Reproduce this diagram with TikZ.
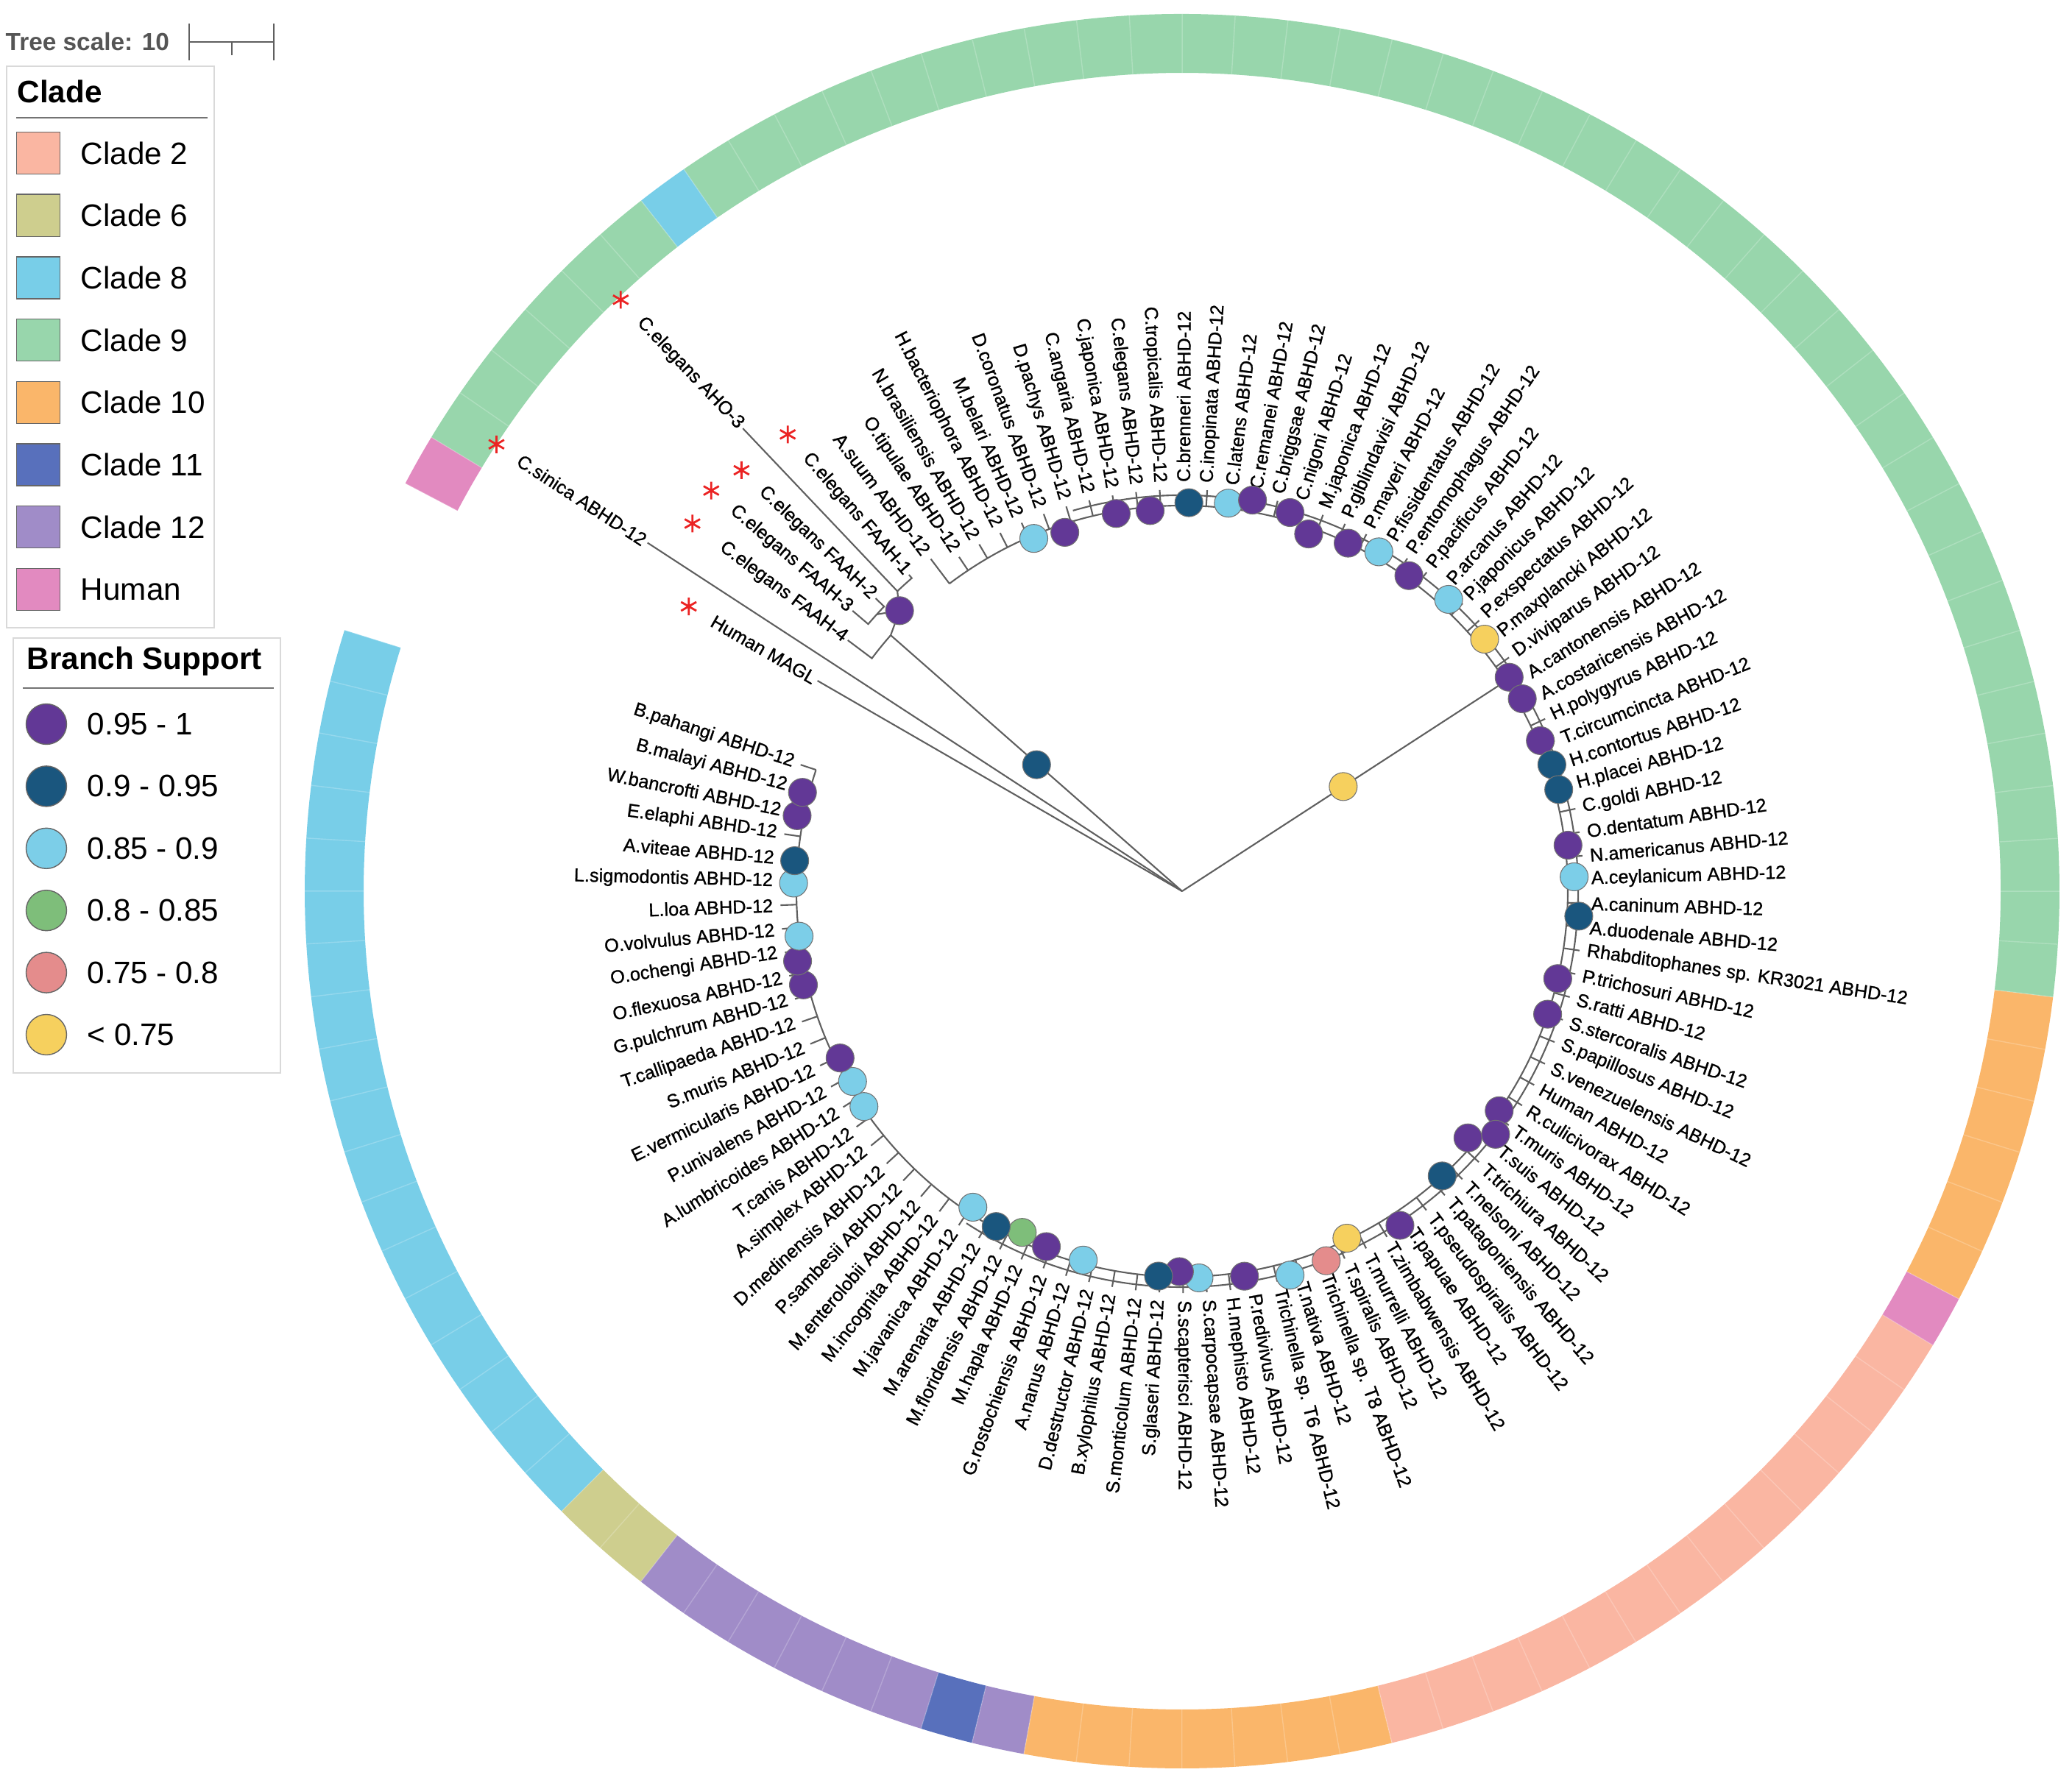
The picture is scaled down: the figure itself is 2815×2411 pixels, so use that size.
\documentclass[tikz,border=0pt]{standalone}
\usepackage{fontspec}
\setmainfont{Liberation Sans}
\newfontfamily\leaffont{Liberation Sans}[FakeBold=1]
\usetikzlibrary{positioning}

% clade colours
\definecolor{cladeTwo}{RGB}{250,182,162}
\definecolor{cladeSix}{RGB}{206,206,142}
\definecolor{cladeEight}{RGB}{120,206,232}
\definecolor{cladeNine}{RGB}{152,214,172}
\definecolor{cladeTen}{RGB}{250,182,106}
\definecolor{cladeEleven}{RGB}{88,112,188}
\definecolor{cladeTwelve}{RGB}{160,140,200}
\definecolor{cladeHuman}{RGB}{226,138,192}
% branch support colours
\definecolor{bsP}{RGB}{98,56,150}
\definecolor{bsD}{RGB}{26,86,126}
\definecolor{bsL}{RGB}{124,206,232}
\definecolor{bsG}{RGB}{126,190,122}
\definecolor{bsR}{RGB}{228,140,140}
\definecolor{bsY}{RGB}{246,208,94}
\definecolor{treeGray}{RGB}{95,95,95}
\definecolor{starRed}{RGB}{235,35,35}

\begin{document}
\begin{tikzpicture}[x=0.01cm,y=0.01cm,
    branch/.style={draw=treeGray, line width=0.6pt},
    leaf/.style={inner sep=1pt, font=\leaffont\fontsize{7.2}{8.6}\selectfont},
    supdot/.style={circle, draw=black!55, line width=0.3pt, minimum size=0.38cm, inner sep=0pt},
    asterisk/.style={circle, minimum size=0.26cm, inner sep=0pt,
        path picture={\draw[starRed, line width=0.8pt]
            ([shift={(90:12)}]path picture bounding box.center) -- ([shift={(270:12)}]path picture bounding box.center)
            ([shift={(30:12)}]path picture bounding box.center) -- ([shift={(210:12)}]path picture bounding box.center)
            ([shift={(150:12)}]path picture bounding box.center) -- ([shift={(330:12)}]path picture bounding box.center);}},
    swatch/.style={draw=black!60, line width=0.4pt, minimum width=0.59cm, minimum height=0.57cm, inner sep=0pt},
    legdot/.style={circle, draw=black!60, line width=0.4pt, minimum size=0.55cm, inner sep=0pt},
    legtext/.style={inner sep=0pt, font=\fontsize{12}{14}\selectfont},
    legtitle/.style={inner sep=0pt, font=\bfseries\fontsize{12}{14}\selectfont},
    legbox/.style={draw=black!15, fill=white, line width=0.5pt}]

    % page frame, root of the tree at the origin
    \useasboundingbox (-1606,-1200) rectangle (1209,1211);

    % Clade strip
    \foreach \from/\to/\col in {0/6/cladeTen, 6/44/cladeNine, 44/45/cladeEight, 45/51/cladeNine,
        51/52/cladeHuman, 55/73/cladeEight, 73/75/cladeSix, 75/81/cladeTwelve, 81/82/cladeEleven,
        82/83/cladeTwelve, 83/90/cladeTen, 90/103/cladeTwo, 103/104/cladeHuman}{
        \pgfmathsetmacro{\a}{332.3+3.4615*\from}
        \pgfmathsetmacro{\b}{332.3+3.4615*\to}
        \fill[\col] (\a:1112) arc[start angle=\a, end angle=\b, radius=1112]
            -- (\b:1192) arc[start angle=\b, end angle=\a, radius=1192] -- cycle;
    }
    \foreach \n in {0,...,103}
        \draw[white, opacity=0.22, line width=0.4pt] (332.3+3.4615*\n:1112) -- (332.3+3.4615*\n:1192);

    % Inner nodes
    \coordinate (root) at (0,0);
    \coordinate (n2) at (33:522);

    % Backbone of the ABHD-12 clade
    \draw[branch] (127.1:524) arc[start angle=127.1, end angle=-198.3, radius=524];
    \draw[branch] (106:538) arc[start angle=106, end angle=-123, radius=538];
    \draw[branch] (root) -- (n2);

    % ABHD-12 leaves, clockwise from A.suum
    \foreach \taxon [count=\k from 0] in {A.suum, O.tipulae, N.brasiliensis, H.bacteriophora, M.belari,
        D.coronatus, D.pachys, C.angaria, C.japonica, C.elegans, C.tropicalis, C.brenneri, C.inopinata,
        C.latens, C.remanei, C.briggsae, C.nigoni, M.japonica, P.giblindavisi, P.mayeri, P.fissidentatus,
        P.entomophagus, P.pacificus, P.arcanus, P.japonicus, P.exspectatus, P.maxplancki, D.viviparus,
        A.cantonensis, A.costaricensis, H.polygyrus, T.circumcincta, H.contortus, H.placei, C.goldi,
        O.dentatum, N.americanus, A.ceylanicum, A.caninum, A.duodenale, Rhabditophanes sp. KR3021,
        P.trichosuri, S.ratti, S.stercoralis, S.papillosus, S.venezuelensis, Human, R.culicivorax,
        T.muris, T.suis, T.trichiura, T.nelsoni, T.patagoniensis, T.pseudospiralis, T.papuae,
        T.zimbabwensis, T.murrelli, T.spiralis, Trichinella sp. T8, T.nativa, Trichinella sp. T6,
        P.redivivus, H.mephisto, S.carpocapsae, S.scapterisci, S.glaseri, S.monticolum, B.xylophilus,
        D.destructor, A.nanus, G.rostochiensis, M.hapla, M.floridensis, M.arenaria, M.javanica,
        M.incognita, M.enterolobii, P.sambesii, D.medinensis, A.simplex, T.canis, A.lumbricoides,
        P.univalens, E.vermicularis, S.muris, T.callipaeda, G.pulchrum, O.flexuosa, O.ochengi,
        O.volvulus, L.loa, L.sigmodontis, A.viteae, E.elaphi, W.bancrofti, B.malayi, B.pahangi}{
        \pgfmathsetmacro{\ang}{127.1-3.39*\k}
        \pgfmathsetmacro{\rad}{\k==0 ? 572 : 552}
        \pgfmathtruncatemacro{\flip}{cos(\ang)<0}
        \draw[branch] (\ang:524) -- (\ang:\rad-6);
        \ifnum\flip=1
            \node[leaf, anchor=east, rotate=\ang+180] (leaf\k) at (\ang:\rad) {\taxon\ ABHD-12};
        \else
            \node[leaf, anchor=west, rotate=\ang] (leaf\k) at (\ang:\rad) {\taxon\ ABHD-12};
        \fi
    }

    % Outgroup: FAAH, AHO, MAGL and C.sinica
    \coordinate (n1) at (138.7:527);
    \coordinate (nc) at (135.2:541);
    \coordinate (na) at (133.5:562);
    \coordinate (nb) at (137.8:560);
    \coordinate (tAho) at (133.5:867);
    \coordinate (tFa1) at (130.8:568);
    \coordinate (tFa2) at (136.3:576);
    \coordinate (tFa3) at (139.6:588);
    \coordinate (tFa4) at (143.1:568);
    \coordinate (tSin) at (146.9:867);
    \coordinate (tMagl) at (150:572);
    \draw[branch] (root) -- (n1) -- (nc) -- (na) -- (tAho);
    \draw[branch] (na) arc[start angle=133.5, end angle=130.8, radius=562] -- (tFa1);
    \draw[branch] (nc) -- (nb);
    \draw[branch] (tFa2) -- (136.3:560) arc[start angle=136.3, end angle=139.6, radius=560] -- (tFa3);
    \draw[branch] (n1) arc[start angle=138.7, end angle=143.1, radius=527] -- (tFa4);
    \draw[branch] (root) -- (tSin);
    \draw[branch] (root) -- (tMagl);
    \node[leaf, anchor=east, rotate=-46.5] (aho) at (tAho) {C.elegans AHO-3};
    \node[leaf, anchor=east, rotate=-49.2] (faahA) at (tFa1) {C.elegans FAAH-1};
    \node[leaf, anchor=east, rotate=-43.7] (faahB) at (tFa2) {C.elegans FAAH-2};
    \node[leaf, anchor=east, rotate=-40.4] (faahC) at (tFa3) {C.elegans FAAH-3};
    \node[leaf, anchor=east, rotate=-36.9] (faahD) at (tFa4) {C.elegans FAAH-4};
    \node[leaf, anchor=east, rotate=-33.1] (sinica) at (tSin) {C.sinica ABHD-12};
    \node[leaf, anchor=east, rotate=-30] (magl) at (tMagl) {Human MAGL};

    % Stars
    \foreach \a/\r [count=\i] in {146.9/1112, 133.5/1108, 130.8/820, 136.3/828, 139.6/840, 143.1/832, 150/774}
        \node[asterisk] (star\i) at (\a:\r) {};

    % Branch support
    \node[supdot, fill=bsD] (supN1) at (139:262) {};
    \node[supdot, fill=bsP] (supNc) at (nc) {};
    \node[supdot, fill=bsY] (supN2) at (33:261) {};
    \foreach \a/\r/\c [count=\i] in {112.8/520/bsL, 108.1/513/bsP, 99.9/521/bsP, 94.8/519/bsP,
        89.0/528/bsD, 83.2/531/bsL, 79.8/540/bsP, 74.1/535/bsP, 70.5/515/bsP, 64.5/524/bsP,
        59.9/533/bsL, 54.3/528/bsP, 47.6/537/bsL, 39.8/535/bsY, 33.2/531/bsP, 29.5/531/bsP,
        22.8/528/bsP, 18.9/531/bsD, 15.1/530/bsD, 6.8/528/bsP, 2.1/533/bsL, -3.6/540/bsD,
        -13.1/524/bsP, -18.6/524/bsP, -34.7/524/bsP, -40.8/513/bsP, -37.8/539/bsP, -47.6/524/bsD,
        -56.9/542/bsP, -64.6/522/bsY, -68.7/539/bsR, -74.3/542/bsL, -80.8/530/bsP, -87.5/526/bsL,
        -90.4/517/bsP, -93.5/524/bsD, -105/519/bsL, -110.9/517/bsP, -115.1/512/bsG, -119/521/bsD,
        -123.5/515/bsL, -145.9/522/bsL, -150/517/bsL, -154/517/bsP, -166.1/530/bsP, -169.7/531/bsP,
        -173.3/524/bsL, 178.8/528/bsL, 175.5/528/bsD, 168.9/533/bsP, 165.4/533/bsP}
        \node[supdot, fill=\c] (sup\i) at (\a:\r) {};

    % Tree scale
    \node[anchor=west, inner sep=0pt, text={rgb,255:red,85;green,85;blue,85},
        font=\bfseries\fontsize{9.5}{11}\selectfont] (tscale) at (-1599,1154) {Tree scale: 10};
    \coordinate (sbA) at (-1349,1154);
    \coordinate (sbM) at (-1291,1154);
    \coordinate (sbB) at (-1234,1154);
    \draw[treeGray, line width=0.6pt] (sbA) -- (sbB);
    \draw[treeGray, line width=0.6pt] ([yshift=-7]sbA) -- ([yshift=7]sbA);
    \draw[treeGray, line width=0.6pt] ([yshift=-7]sbB) -- ([yshift=7]sbB);
    \draw[treeGray, line width=0.5pt] ([yshift=-5]sbM) -- (sbM);

    % Clade legend
    \draw[legbox] (-1597,1121) rectangle (-1315,358);
    \node[legtitle, anchor=west] (cladeTitle) at (-1583,1087) {Clade};
    \draw[black!55, line width=0.5pt] (-1584,1051) -- (-1324,1051);
    \foreach \c/\t [count=\i] in {cladeTwo/Clade 2, cladeSix/Clade 6, cladeEight/Clade 8, cladeNine/Clade 9,
        cladeTen/Clade 10, cladeEleven/Clade 11, cladeTwelve/Clade 12, cladeHuman/Human}{
        \node[swatch, fill=\c] (key\i) at (-1554,{1003-84.7*(\i-1)}) {};
        \node[legtext, right=0.27cm of key\i] (keyText\i) {\t};
    }

    % Branch support legend
    \draw[legbox] (-1588,344) rectangle (-1225,-247);
    \node[legtitle, anchor=west] (supTitle) at (-1570,312) {Branch Support};
    \draw[black!55, line width=0.5pt] (-1575,276) -- (-1234,276);
    \foreach \c/\t [count=\i] in {bsP/0.95 - 1, bsD/0.9 - 0.95, bsL/0.85 - 0.9, bsG/0.8 - 0.85,
        bsR/0.75 - 0.8, bsY/< 0.75}{
        \node[legdot, fill=\c] (bs\i) at (-1543,{227-84.4*(\i-1)}) {};
        \node[legtext, right=0.27cm of bs\i] (bsText\i) {\t};
    }

\end{tikzpicture}
\end{document}
